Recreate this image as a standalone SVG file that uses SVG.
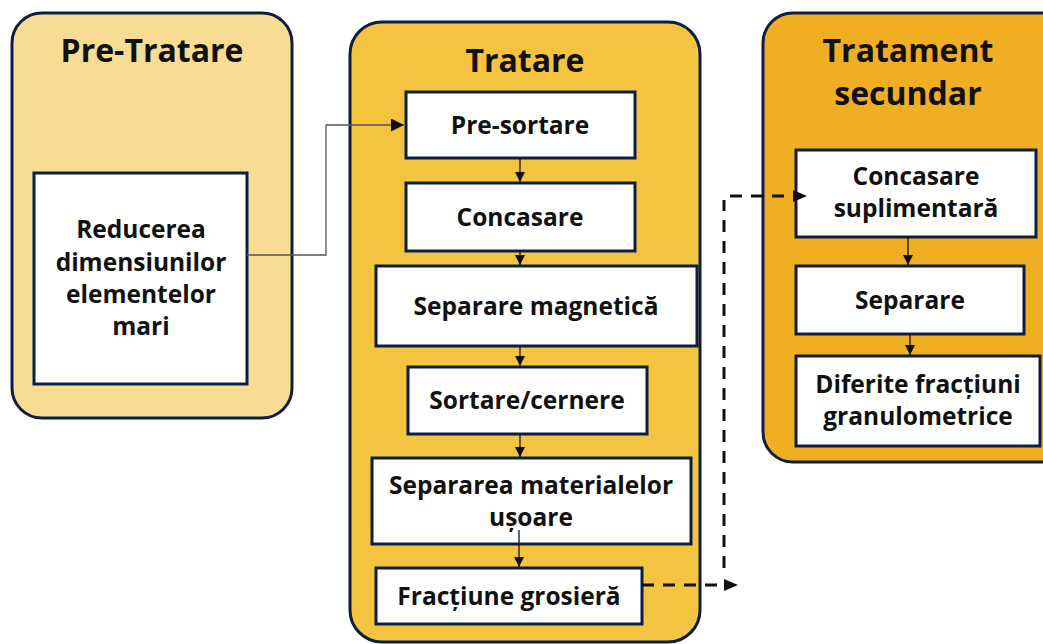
<svg xmlns="http://www.w3.org/2000/svg" width="1043" height="644" viewBox="0 0 1043 644">
<defs>
<style>
.cont{stroke:#0B1F45;stroke-width:3}
.box{fill:#FFFFFF;stroke:#0B1F45;stroke-width:3}
.t{font-family:"Open Sans","Noto Sans","DejaVu Sans",sans-serif;font-weight:700;font-size:24.5px;fill:#111111;text-anchor:middle}
.h{font-family:"Open Sans","Noto Sans","DejaVu Sans",sans-serif;font-weight:700;font-size:32px;fill:#111111;text-anchor:middle}
.ln{fill:none;stroke:#111111;stroke-width:1.3}
.dash{fill:none;stroke:#111111;stroke-width:3;stroke-dasharray:12 9}
</style>
<marker id="ah" viewBox="0 0 10 10" refX="10" refY="5" markerWidth="10" markerHeight="10" markerUnits="userSpaceOnUse" orient="auto"><path d="M0,0 L10,5 L0,10 Z" fill="#111111"/></marker>
<marker id="ahb" viewBox="0 0 10 10" refX="10" refY="5" markerWidth="13" markerHeight="13" markerUnits="userSpaceOnUse" orient="auto"><path d="M0,0 L10,5 L0,10 Z" fill="#111111"/></marker>
</defs>
<g id="pre-tratare">
<rect class="cont" x="12" y="13" width="280" height="405" rx="30" fill="#F8DC94"/>
<text class="h" x="152" y="62">Pre-Tratare</text>
</g>
<g id="tratare">
<rect class="cont" x="350" y="22" width="350" height="620" rx="32" fill="#F4C33F"/>
<text class="h" x="525" y="72">Tratare</text>
</g>
<g id="tratament-secundar">
<rect class="cont" x="763" y="13" width="310" height="449" rx="30" fill="#F0AE22"/>
<text class="h" x="908" y="62">Tratament</text>
<text class="h" x="908" y="105">secundar</text>
</g>
<g id="reducerea">
<rect class="box" x="34" y="173" width="213" height="211"/>
<text class="t" x="141" y="238">Reducerea</text>
<text class="t" x="141" y="271">dimensiunilor</text>
<text class="t" x="141" y="303">elementelor</text>
<text class="t" x="141" y="335">mari</text>
</g>
<g id="pre-sortare">
<rect class="box" x="406" y="92" width="229" height="66"/>
<text class="t" x="520" y="134">Pre-sortare</text>
</g>
<g id="concasare">
<rect class="box" x="406" y="183" width="229" height="68"/>
<text class="t" x="520" y="226">Concasare</text>
</g>
<g id="separare-magnetica">
<rect class="box" x="376" y="266" width="321" height="80"/>
<text class="t" x="536" y="315">Separare magnetică</text>
</g>
<g id="sortare-cernere">
<rect class="box" x="408" y="367" width="239" height="67"/>
<text class="t" x="527" y="409">Sortare/cernere</text>
</g>
<g id="separarea-materialelor">
<rect class="box" x="372" y="458" width="319" height="86"/>
<text class="t" x="531" y="494">Separarea materialelor</text>
<text class="t" x="531" y="526">ușoare</text>
</g>
<g id="fractiune-grosiera">
<rect class="box" x="376" y="568" width="266" height="56"/>
<text class="t" x="509" y="605">Fracțiune grosieră</text>
</g>
<g id="concasare-suplimentara">
<rect class="box" x="796" y="150" width="240" height="87"/>
<text class="t" x="916" y="185">Concasare</text>
<text class="t" x="916" y="217">suplimentară</text>
</g>
<g id="separare">
<rect class="box" x="796" y="266" width="228" height="68"/>
<text class="t" x="910" y="309">Separare</text>
</g>
<g id="diferite-fractiuni">
<rect class="box" x="796" y="356" width="244" height="90"/>
<text class="t" x="918" y="393">Diferite fracțiuni</text>
<text class="t" x="918" y="425">granulometrice</text>
</g>
<g id="connectors">
<path d="M247,255 H326 V125 H404" fill="none" stroke="#555555" stroke-width="1.3" marker-end="url(#ahb)"/>
<path class="ln" d="M520,158 V182" marker-end="url(#ah)"/>
<path class="ln" d="M520,251 V265" marker-end="url(#ah)"/>
<path class="ln" d="M520,346 V366" marker-end="url(#ah)"/>
<path class="ln" d="M520,434 V457" marker-end="url(#ah)"/>
<path class="ln" d="M519,530 V567" marker-end="url(#ah)"/>
<path class="ln" d="M908,237 V265" marker-end="url(#ah)"/>
<path class="ln" d="M910,334 V355" marker-end="url(#ah)"/>
<path class="dash" d="M642,585 H726" />
<path d="M724,579 L738,585 L724,591 Z" fill="#111111"/>
<path class="dash" d="M724,568 V200"/>
<path class="dash" d="M730,196 H795"/>
<path d="M793,190 L807,196 L793,202 Z" fill="#111111"/>
</g>
</svg>
